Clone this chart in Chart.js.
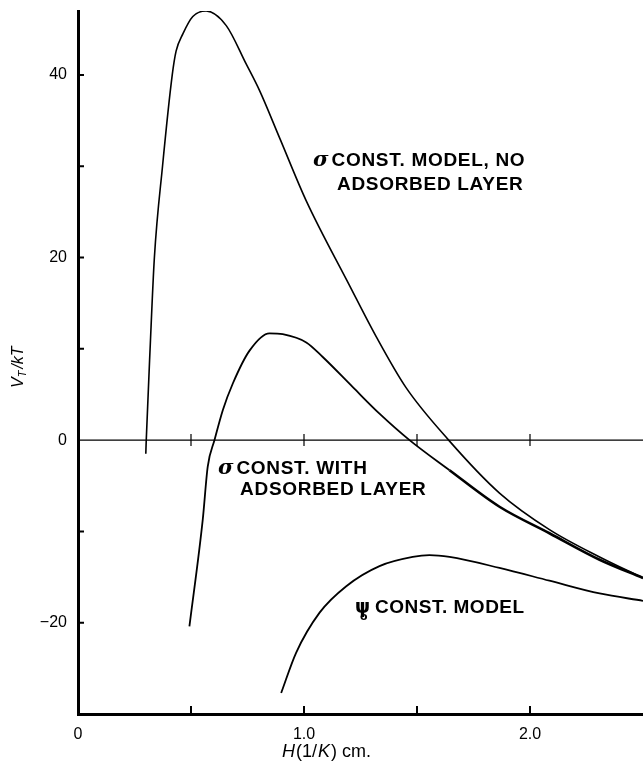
<!DOCTYPE html>
<html>
<head>
<meta charset="utf-8">
<script src="https://cdn.jsdelivr.net/npm/chart.js@4/dist/chart.umd.min.js"></script>
<style>
  body { margin: 0; background: #fff; }
  #wrap { width: 643px; height: 763px; position: relative; }
</style>
</head>
<body>
<div id="wrap"><canvas id="mycanvas"></canvas></div>
<script>
// sigma const. model, no adsorbed layer
var noLayerH = [0.300, 0.302, 0.319, 0.338, 0.374, 0.417, 0.434, 0.464, 0.508, 0.567, 0.656, 0.744, 0.803, 0.892, 1.010, 1.200, 1.320, 1.450, 1.640, 1.865, 2.086, 2.308, 2.500];
var noLayerV = [-1.5, 0, 10, 20, 30, 40, 42.6, 44.5, 46.4, 47.0, 45.4, 41.2, 38.3, 33.1, 26.2, 17.0, 11.3, 5.8, 0, -5.8, -9.8, -12.8, -15.1];

// sigma const. with adsorbed layer
var withLayerH = [0.493, 0.552, 0.574, 0.604, 0.641, 0.685, 0.759, 0.847, 0.906, 1.010, 1.083, 1.216, 1.334, 1.467, 1.644, 1.865, 2.086, 2.308, 2.500];
var withLayerV = [-20.4, -8.7, -2.9, 0, 3.3, 6.2, 9.8, 11.7, 11.6, 10.7, 9.1, 5.8, 2.9, 0, -3.3, -7.3, -10.2, -13.1, -15.1];

// psi_0 const. model
var psiH = [0.899, 0.965, 1.069, 1.187, 1.334, 1.481, 1.555, 1.644, 1.865, 2.086, 2.308, 2.500];
var psiV = [-27.7, -23.3, -18.9, -16.0, -13.8, -12.8, -12.6, -12.8, -14.0, -15.4, -16.8, -17.6];

// axis ticks
var xTickMarks = [0.5, 1.0, 1.5, 2.0];
var xTickLabels = [0, 1.0, 2.0];
var yTickMarks = [40, 30, 20, 10, -10, -20];
var yTickLabels = [40, 20, 0, -20];

function pts(hs, vs){
	var out = [];
	for(var i in hs){
		out.push({x: hs[i], y: vs[i]});
	}
	return out;
}

// zero line, inward ticks, axis titles and curve labels
var decorations = {
	id: 'decorations',
	beforeDatasetsDraw: function(chart){
		var ctx = chart.ctx;
		var xs = chart.scales.x, ys = chart.scales.y;
		var a = chart.chartArea;
		var y0 = ys.getPixelForValue(0);
		ctx.save();
		ctx.strokeStyle = '#000';
		ctx.lineWidth = 1.2;
		ctx.beginPath();
		ctx.moveTo(a.left, y0);
		ctx.lineTo(a.right, y0);
		// ticks crossing the zero line
		xTickMarks.forEach(function(v){
			var px = xs.getPixelForValue(v);
			ctx.moveTo(px, y0 - 6);
			ctx.lineTo(px, y0 + 6);
		});
		ctx.stroke();

		ctx.lineWidth = 2;
		ctx.beginPath();
		xTickMarks.forEach(function(v){
			var px = xs.getPixelForValue(v);
			ctx.moveTo(px, a.bottom);
			ctx.lineTo(px, a.bottom - 8);
		});
		yTickMarks.forEach(function(v){
			var py = ys.getPixelForValue(v);
			ctx.moveTo(a.left, py);
			ctx.lineTo(a.left + 6, py);
		});
		ctx.stroke();
		ctx.restore();
	},
	afterDraw: function(chart){
		var ctx = chart.ctx;
		var xs = chart.scales.x, ys = chart.scales.y;
		ctx.save();
		ctx.fillStyle = '#000';
		ctx.textBaseline = 'alphabetic';

		// x title: H(1/K) cm.
		var x = 282, y = 757;
		var parts = [
			['italic 18px "Liberation Sans"', 'H'],
			['18px "Liberation Sans"', '(1/'],
			['italic 18px "Liberation Sans"', 'K'],
			['18px "Liberation Sans"', ') cm.']
		];
		parts.forEach(function(p){
			ctx.font = p[0];
			ctx.fillText(p[1], x, y);
			x += ctx.measureText(p[1]).width + 1;
		});

		// y title: V_T/kT
		ctx.save();
		ctx.translate(23, 388);
		ctx.rotate(-Math.PI / 2);
		ctx.font = 'italic 16px "Liberation Sans"';
		ctx.fillText('V', 0, 0);
		var w = ctx.measureText('V').width;
		ctx.font = 'italic 11px "Liberation Sans"';
		ctx.fillText('T', w, 3);
		w += ctx.measureText('T').width + 2;
		ctx.font = 'italic 16px "Liberation Sans"';
		ctx.fillText('/kT', w, 0);
		ctx.restore();

		// curve labels, placed in data units
		function label(h, v, sym, text){
			var px = xs.getPixelForValue(h);
			var py = ys.getPixelForValue(v);
			if(sym){
				ctx.font = 'italic bold 21px "DejaVu Serif"';
				ctx.fillText(sym, px, py);
				px += ctx.measureText(sym).width + 3;
			}
			ctx.font = 'bold 19px "Liberation Sans"';
			ctx.letterSpacing = '0.7px';
			ctx.fillText(text, px, py);
			ctx.letterSpacing = '0px';
		}
		label(1.040, 30.0, '\u03c3', 'CONST. MODEL, NO');
		label(1.146, 27.4, '', 'ADSORBED LAYER');
		label(0.619, -3.7, '\u03c3', 'CONST. WITH');
		label(0.717, -6.0, '', 'ADSORBED LAYER');

		// psi with subscript o
		var px = xs.getPixelForValue(1.226);
		var py = ys.getPixelForValue(-18.9);
		ctx.font = 'bold 19px "DejaVu Sans"';
		ctx.fillText('\u03c8', px, py);
		ctx.font = 'bold 11px "DejaVu Sans"';
		ctx.fillText('o', px + 5, py + 7);
		ctx.font = 'bold 19px "Liberation Sans"';
		ctx.letterSpacing = '0.5px';
		ctx.fillText('CONST. MODEL', px + 20, py);
		ctx.restore();
	}
};

var chartdata = {
	datasets: [
		{
			label: 'noLayer',
			data: pts(noLayerH, noLayerV),
			borderColor: '#000',
			borderWidth: 1.6
		},
		{
			label: 'withLayer',
			data: pts(withLayerH, withLayerV),
			borderColor: '#000',
			borderWidth: 1.8,
			segment: {
				borderWidth: function(c){ return c.p0.parsed.x >= 1.6 ? 2.6 : 1.8; }
			}
		},
		{
			label: 'psi',
			data: pts(psiH, psiV),
			borderColor: '#000',
			borderWidth: 1.8
		}
	]
};

var ctx = document.getElementById('mycanvas');

var lineGraph = new Chart(ctx, {
	type: 'line',
	data: chartdata,
	options: {
		responsive: true,
		maintainAspectRatio: false,
		animation: false,
		layout: { padding: { top: 11, right: 0, left: 0, bottom: 0 } },
		elements: {
			point: { radius: 0 },
			line: { cubicInterpolationMode: 'monotone', fill: false }
		},
		plugins: {
			legend: { display: false },
			tooltip: { enabled: false }
		},
		scales: {
			x: {
				type: 'linear',
				min: 0,
				max: 2.5,
				afterFit: function(s){
					s.height = 49;
					s.paddingLeft = 0;
					s.paddingRight = 0;
				},
				border: { display: true, width: 3, color: '#000' },
				grid: { drawOnChartArea: false, drawTicks: false },
				ticks: {
					stepSize: 0.5,
					autoSkip: false,
					maxRotation: 0,
					padding: 11,
					color: '#000',
					font: { family: 'Liberation Sans', size: 16 },
					callback: function(v){
						if(xTickLabels.indexOf(v) < 0) return '';
						return v === 0 ? '0' : v.toFixed(1);
					}
				}
			},
			y: {
				type: 'linear',
				min: -30,
				max: 47,
				afterFit: function(s){
					s.width = 78;
					s.paddingTop = 0;
					s.paddingBottom = 0;
				},
				border: { display: true, width: 3, color: '#000' },
				grid: { drawOnChartArea: false, drawTicks: false },
				ticks: {
					stepSize: 10,
					autoSkip: false,
					padding: 11,
					color: '#000',
					font: { family: 'Liberation Sans', size: 16 },
					callback: function(v){
						if(yTickLabels.indexOf(v) < 0) return '';
						return v < 0 ? '\u2212' + Math.abs(v) : String(v);
					}
				}
			}
		}
	},
	plugins: [decorations]
});
</script>
</body>
</html>
